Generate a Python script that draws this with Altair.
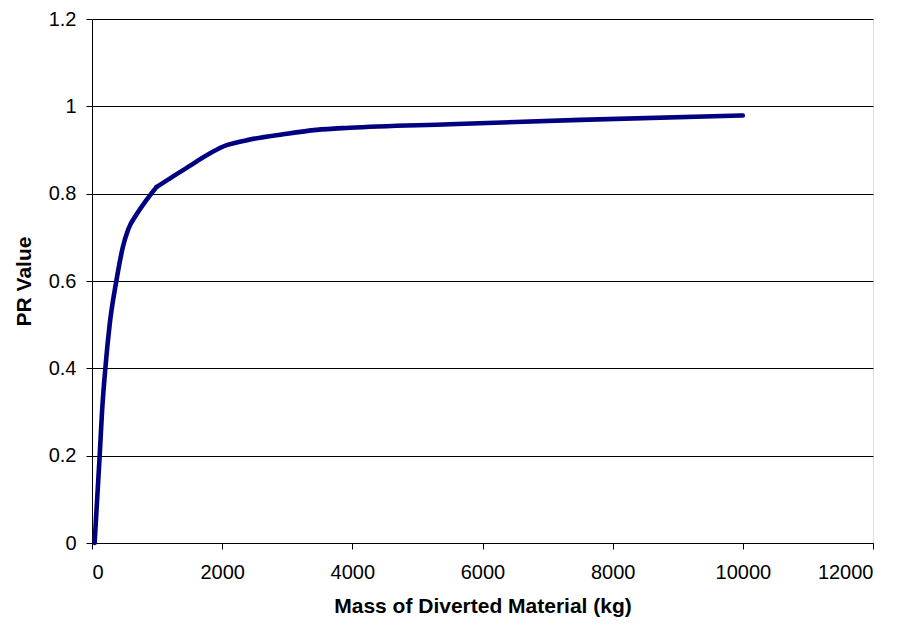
import altair as alt
import pandas as pd

# Diverted mass (kg) and the corresponding PR value; the curve has a
# sharp change of slope at about 990 kg, so it is drawn as two smooth pieces
mass_kg = [40, 118, 154, 205, 271, 374, 476, 553, 696, 911, 990,
           990, 1400, 2070, 2430, 2940, 3450, 3960, 5500, 7500, 10000]
pr_value = [0.0, 0.2, 0.3, 0.4, 0.5, 0.6, 0.679, 0.717, 0.755, 0.8, 0.815,
            0.815, 0.854, 0.911, 0.924, 0.936, 0.946, 0.951, 0.959, 0.969, 0.979]
piece = ["rise"] * 11 + ["plateau"] * 10

x_ticks = [0, 2000, 4000, 6000, 8000, 10000, 12000]
y_ticks = [0, 0.2, 0.4, 0.6, 0.8, 1.0, 1.2]

df = pd.DataFrame({"mass": mass_kg, "pr": pr_value, "piece": piece})

font = "Liberation Sans"

chart = (
    alt.Chart(df)
    .mark_line(color="#000080", strokeWidth=4.6, interpolate="monotone",
               strokeCap="round", strokeJoin="round")
    .encode(
        x=alt.X(
            "mass:Q",
            scale=alt.Scale(domain=[0, 12000], nice=False, zero=True),
            axis=alt.Axis(
                title="Mass of Diverted Material (kg)",
                values=x_ticks,
                format="d",
                grid=False,
                domainColor="black",
                tickColor="black",
                tickSize=6,
                labelFont=font,
                labelFontSize=20,
                labelColor="black",
                labelPadding=13,
                titleFont=font,
                titleFontSize=21,
                titleFontWeight="bold",
                titleColor="black",
                titlePadding=13,
            ),
        ),
        y=alt.Y(
            "pr:Q",
            scale=alt.Scale(domain=[0, 1.2], nice=False),
            axis=alt.Axis(
                title="PR Value",
                values=y_ticks,
                labelExpr="datum.value == 0 ? '0' : datum.value == 1 ? '1' : format(datum.value, '.1f')",
                grid=True,
                gridColor="black",
                gridWidth=1,
                domainColor="black",
                tickColor="black",
                tickSize=6,
                labelFont=font,
                labelFontSize=20,
                labelColor="black",
                labelPadding=10,
                titleFont=font,
                titleFontSize=21,
                titleFontWeight="bold",
                titleColor="black",
                titlePadding=14,
            ),
        ),
        detail="piece:N",
    )
    .properties(
        width=781,
        height=524,
        autosize=alt.AutoSizeParams(type="none"),
        padding={"left": 92, "top": 19, "right": 32, "bottom": 82},
    )
    .configure_view(stroke="#808080", strokeWidth=1)
    .configure(background="white")
)

chart.save("out.html", embed_options={"renderer": "svg", "actions": False})
